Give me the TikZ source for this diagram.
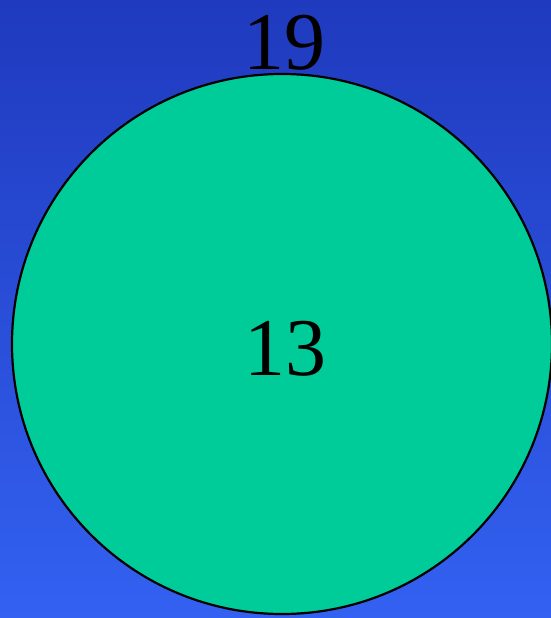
\documentclass[tikz,border=0pt]{standalone}
\usepackage{fontspec}
\setmainfont{Liberation Serif}
\definecolor{bgtop}{RGB}{31,58,190}
\definecolor{bgbot}{RGB}{51,97,241}
\definecolor{disc}{RGB}{0,204,153}
\begin{document}
\begin{tikzpicture}[x=1pt,y=1pt,
  numlabel/.style={font=\fontsize{82}{86}\selectfont, text=black, inner sep=0pt, anchor=base},
  disk/.style={circle, draw=black, line width=2.2pt, fill=disc, minimum size=540pt, inner sep=0pt}]
  \shade[top color=bgtop, bottom color=bgbot] (0,0) rectangle (551,-618);
  \useasboundingbox (0,0) rectangle (551,-618);
  \node[disk] (c) at (282,-344) {};
  \node[numlabel] (inner) at (285,-375) {13};
  \node[numlabel] (outer) at (284,-70) {19};
\end{tikzpicture}
\end{document}
